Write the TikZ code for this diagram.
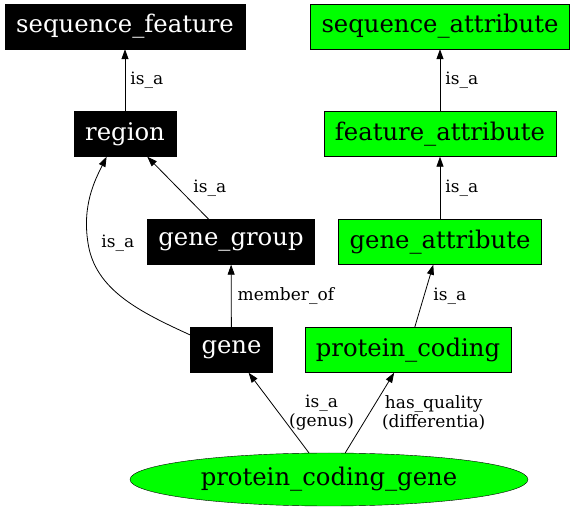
\documentclass[tikz,border=0pt]{standalone}
\usepackage{fontspec}
\setmainfont{DejaVu Serif}
\usetikzlibrary{shapes.geometric,arrows.meta,positioning}
\definecolor{attrgreen}{RGB}{0,255,0}

\begin{document}
\begin{tikzpicture}[x=1pt, y=-1pt,
        term/.style={draw, rectangle, inner xsep=11pt, minimum height=45pt,
                font=\fontsize{24.3}{28}\selectfont},
        soterm/.style={term, fill=black, text=white},
        attr/.style={term, fill=attrgreen},
        lbl/.style={inner sep=0pt, align=center, font=\fontsize{17}{19.5}\selectfont},
        arrow/.style={-{Triangle[length=10pt, width=7pt]}, line width=0.8pt}
        ]
        \useasboundingbox (0,0) rectangle (576,510);

        % ---------------- SO terms ----------------
        \node[soterm] (seqfeat)   at (125,26.5) {sequence\_feature};
        \node[soterm] (region)    at (125,134)  {region};
        \node[soterm] (genegroup) at (231,242)  {gene\_group};
        \node[soterm] (gene)      at (231.5,350) {gene};

        % ---------------- attributes --------------
        \node[attr] (seqattr)  at (440,26.5) {sequence\_attribute};
        \node[attr] (featattr) at (440,134)  {feature\_attribute};
        \node[attr] (geneattr) at (440,242)  {gene\_attribute};
        \node[attr] (protcod)  at (408,350)  {protein\_coding};

        % ---------------- defined class -----------
        \node[ellipse, draw, fill=attrgreen, minimum width=398pt, minimum height=53pt,
                inner sep=0pt, font=\fontsize{24.3}{28}\selectfont]
                (pcgene) at (329,479.5) {protein\_coding\_gene};

        % ---------------- is_a edges --------------
        \draw[arrow] (region)   -- node[lbl, right=5pt] (l1) {is\_a} (seqfeat);
        \draw[arrow] (featattr) -- node[lbl, right=5pt] (l2) {is\_a} (seqattr);
        \draw[arrow] (geneattr) -- node[lbl, right=5pt] (l3) {is\_a} (featattr);
        \draw[arrow] (genegroup) -- node[lbl, right=15pt] (l4) {is\_a} (region);
        \draw[arrow] (gene.160) .. controls (140,312) and (95,290) .. (88,243)
                node[lbl, right=13pt] (l5) {is\_a}
                .. controls (82,205) and (95,180) .. (region.-129);
        \draw[arrow] (gene)    -- node[lbl, right=6pt] (l6) {member\_of} (genegroup);
        \draw[arrow] (protcod) -- node[lbl, right=9pt] (l7) {is\_a} (geneattr);

        % ---------------- genus / differentia -----
        \draw[arrow] (pcgene) -- node[lbl, right=10pt] (l8) {is\_a\\(genus)} (gene);
        \draw[arrow] (pcgene) -- node[lbl, right=12pt] (l9) {has\_quality\\(differentia)} (protcod);

\end{tikzpicture}
\end{document}
